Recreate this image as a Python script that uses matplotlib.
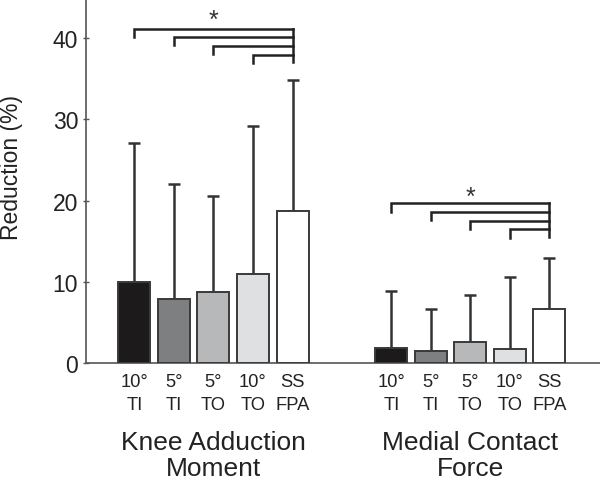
import numpy as np
import matplotlib.pyplot as plt

plt.rcParams['font.family'] = ['Liberation Sans', 'DejaVu Sans']

# conditions and measured reductions (%)
conditions = ['10°\nTI', '5°\nTI', '5°\nTO', '10°\nTO', 'SS\nFPA']
colors = ['#1c1a1b', '#7e7f81', '#b7b8ba', '#dfe0e1', '#ffffff']
groups = ['Knee Adduction\nMoment', 'Medial Contact\nForce']

kam_mean = [10.0, 7.9, 8.7, 11.0, 18.7]
kam_err = [17.1, 14.1, 11.9, 18.2, 16.1]
mcf_mean = [1.9, 1.5, 2.6, 1.7, 6.7]
mcf_err = [6.95, 5.15, 5.75, 8.9, 6.25]

# significance bracket heights for each group
kam_brackets = [41.1, 40.1, 39.05, 37.95]
mcf_brackets = [19.65, 18.6, 17.5, 16.45]

fig = plt.figure(figsize=(6, 4.81), dpi=100)
ax = fig.add_axes([0.143, 0.243, 0.857, 0.757])

x1 = np.arange(5)
x2 = np.arange(5) + 6.5
w = 0.81

for xs, m, e in [(x1, kam_mean, kam_err), (x2, mcf_mean, mcf_err)]:
    ax.bar(xs, m, width=w, color=colors, edgecolor='#3a3a3a', linewidth=1.4, zorder=3)
    ax.errorbar(xs, m, yerr=[np.zeros(5), e], fmt='none', ecolor='#333333',
                elinewidth=1.8, capsize=4.5, capthick=1.8, zorder=2)


def brackets(xs, levels, star_y):
    right = xs[-1]
    for i, lv in enumerate(levels):
        ax.plot([xs[i], xs[i], right], [lv - 1.0, lv, lv], color='#222222',
                lw=1.8, solid_joinstyle='miter', zorder=4)
    ax.plot([right, right], [levels[0], levels[-1] - 0.95], color='#222222', lw=1.8, zorder=4)
    ax.text(xs[2], star_y, '*', ha='center', va='center', fontsize=18, color='#333333')


brackets(x1, kam_brackets, 42.2)
brackets(x2, mcf_brackets, 20.5)

ax.set_xlim(-1.23, 11.78)
ax.set_ylim(0, 44.8)
ax.set_yticks([0, 10, 20, 30, 40])
ax.tick_params(axis='y', labelsize=16.5, direction='inout', length=5, width=1,
               color='#555555', labelcolor='#222222', pad=3)
ax.set_xticks(list(x1) + list(x2))
ax.set_xticklabels(conditions * 2, fontsize=13.2, color='#222222', linespacing=1.45)
ax.tick_params(axis='x', length=0, pad=7)

for s in ['top', 'right']:
    ax.spines[s].set_visible(False)
for s in ['left', 'bottom']:
    ax.spines[s].set_color('#555555')
    ax.spines[s].set_linewidth(1.2)

ax.set_ylabel('Reduction (%)', fontsize=16.5, color='#222222')
ax.yaxis.set_label_coords(-0.122, 0.54)

for xs, g in [(x1, groups[0]), (x2, groups[1])]:
    ax.text(xs[2], -11.3, g, ha='center', va='center', fontsize=19, color='#222222',
            linespacing=1.1)

fig.savefig('out.png', dpi=100)
